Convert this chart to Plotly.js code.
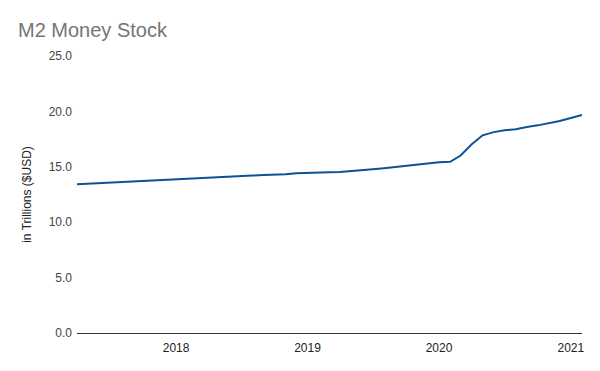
<!DOCTYPE html>
<html>
<head>
<meta charset="utf-8">
<script src="https://cdn.plot.ly/plotly-3.0.1.min.js"></script>
<style>html,body{margin:0;padding:0;background:#fff;}#chart{width:600px;height:371px;}</style>
</head>
<body>
<div id="chart"></div>
<script>
const months = [
  "2017-04-01","2017-05-01","2017-06-01","2017-07-01","2017-08-01","2017-09-01","2017-10-01","2017-11-01","2017-12-01",
  "2018-01-01","2018-02-01","2018-03-01","2018-04-01","2018-05-01","2018-06-01","2018-07-01","2018-08-01","2018-09-01","2018-10-01","2018-11-01","2018-12-01",
  "2019-01-01","2019-02-01","2019-03-01","2019-04-01","2019-05-01","2019-06-01","2019-07-01","2019-08-01","2019-09-01","2019-10-01","2019-11-01","2019-12-01",
  "2020-01-01","2020-02-01","2020-03-01","2020-04-01","2020-05-01","2020-06-01","2020-07-01","2020-08-01","2020-09-01","2020-10-01","2020-11-01","2020-12-01",
  "2021-01-01","2021-02-01"
];
const m2Trillions = [
  13.43,13.48,13.54,13.60,13.65,13.70,13.73,13.78,13.86,
  13.89,13.92,14.01,14.05,14.09,14.12,14.18,14.21,14.25,14.26,14.32,14.41,
  14.46,14.48,14.50,14.53,14.59,14.68,14.78,14.88,14.98,15.09,15.17,15.33,
  15.41,15.45,16.02,17.03,17.84,18.13,18.30,18.38,18.60,18.74,18.93,19.14,
  19.40,19.68
];
const yTicks = [0,5,10,15,20,25];
const titleText = "M2 Money Stock";
const yTitle = "in Trillions ($USD)";

const font = "Liberation Sans, Arial, sans-serif";
Plotly.newPlot("chart", [{
  x: months, y: m2Trillions, type: "scatter", mode: "lines",
  line: {color: "#0b5394", width: 2}, hoverinfo: "skip"
}], {
  width: 600, height: 371,
  margin: {l: 77, r: 18, t: 56, b: 38},
  paper_bgcolor: "#fff", plot_bgcolor: "#fff",
  showlegend: false,
  font: {family: font, size: 12, color: "#444"},
  title: {text: titleText, x: 18/600, xref: "container", xanchor: "left",
          y: 1 - 30/371, yref: "container", yanchor: "middle",
          font: {family: font, size: 20, color: "#757575"}},
  xaxis: {
    type: "date", range: [months[0], months[months.length-1]],
    tick0: "2018-01-01", dtick: "M12", tickformat: "%Y",
    showgrid: false, zeroline: false, showline: true, linecolor: "#333", linewidth: 1,
    ticks: "", ticklabelstandoff: 4, tickfont: {family: font, size: 12, color: "#222"}, fixedrange: true
  },
  yaxis: {
    range: [0, 25], tickvals: yTicks, tickformat: ".1f",
    showgrid: false, zeroline: false, showline: false, ticks: "", ticklabelstandoff: 4,
    tickfont: {family: font, size: 12, color: "#444"},
    title: {text: yTitle, font: {family: font, size: 12, color: "#222"}, standoff: 14},
    fixedrange: true
  }
}, {staticPlot: true, displayModeBar: false});
</script>
</body>
</html>
